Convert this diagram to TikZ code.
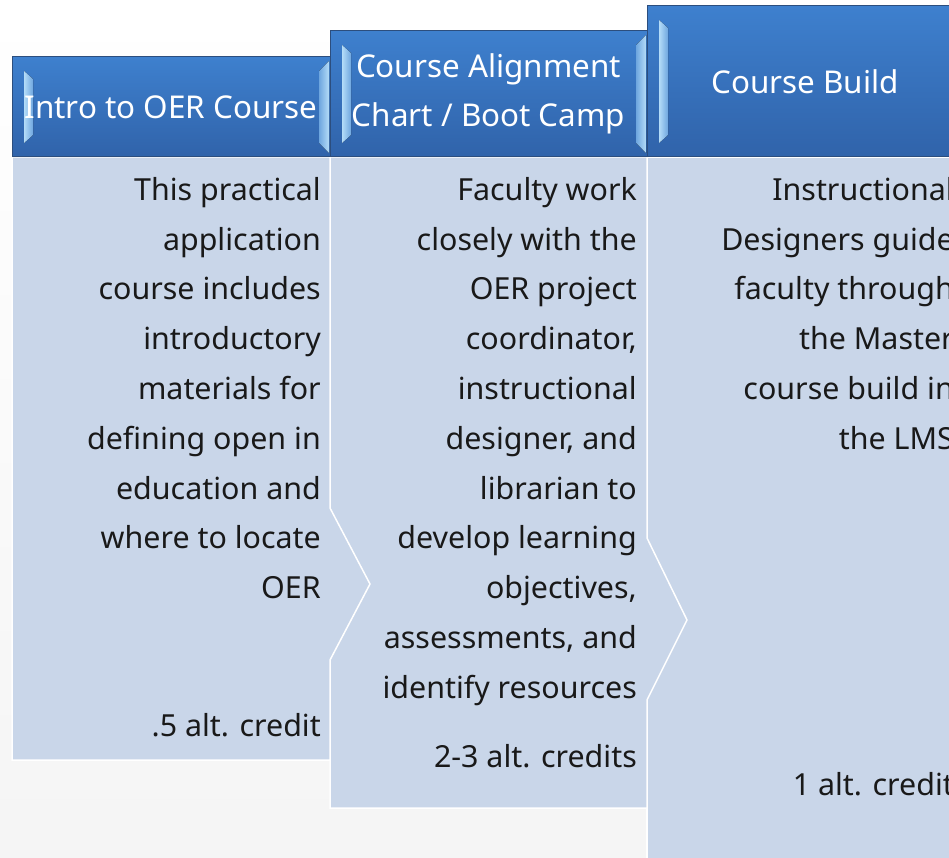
\documentclass[tikz,border=0pt]{standalone}
\usepackage{fontspec}
\setmainfont{Noto Sans}
\usetikzlibrary{positioning}
\definecolor{bodyfill}{HTML}{C9D6E9}
\definecolor{headtop}{HTML}{3E80CE}
\definecolor{headbot}{HTML}{3063AA}
\definecolor{headline}{HTML}{2C4E7E}
\definecolor{bevellight}{HTML}{B4DCF8}
\definecolor{beveldark}{HTML}{6EA6DF}
\tikzset{body/.style = {fill = bodyfill, draw = white, line width = 1.5pt, line join = miter}}
\tikzset{head/.style = {top color = headtop, bottom color = headbot, draw = headline, line width = 1pt}}
\tikzset{bevel/.style = {left color = bevellight, right color = beveldark}}
\tikzset{headtext/.style = {text = white, align = center, inner sep = 0,
                            font = \fontsize{31.4}{49}\selectfont}}
\tikzset{bodytext/.style = {text = black!90, align = right, inner sep = 0, anchor = north east,
                            font = \fontsize{30.4}{49.8}\selectfont}}
\tikzset{credit/.style = {text = black!90, inner sep = 0, anchor = base east,
                          font = \fontsize{30.4}{49.8}\selectfont}}

\begin{document}
\begin{tikzpicture}[x = 1pt, y = -1pt]
    \useasboundingbox (0, 0) rectangle (949, 858);
    \clip (0, 0) rectangle (949, 858);
    \fill [top color = white, bottom color = black!4] (0, 0) rectangle (949, 858);

    % bodies, right to left so each chevron sits on the next one
    \draw [body] (647, 157) rectangle (963, 900);
    \draw [body] (330, 157) -- (647, 157) -- (647, 538) -- (687, 620) -- (647, 700)
                 -- (647, 808) -- (330, 808) -- cycle;
    \draw [body] (12, 157) -- (330, 157) -- (330, 508) -- (370, 584) -- (330, 660)
                 -- (330, 760) -- (12, 760) -- cycle;

    % headers
    \foreach \xa/\ya/\xb/\nm/\txt in {647/6/963/c/{Course Build},
                                      330/31/647/b/{Course Alignment\\Chart / Boot Camp},
                                      12/57/330/a/{Intro to OER Course}} {
        \draw [head] (\xa, \ya) rectangle (\xb, 157);
        \fill [bevel] (\xa + 12, \ya + 14) -- (\xa + 21, \ya + 22) -- (\xa + 21, 135)
                      -- (\xa + 12, 143) -- cycle;
        \fill [bevel, left color = beveldark, right color = bevellight]
              (\xb - 1, \ya + 4) -- (\xb - 11, \ya + 14) -- (\xb - 11, 143) -- (\xb - 1, 153) -- cycle;
        \node [headtext] (head\nm) at ({(\xa + \xb) / 2}, {(\ya + 157) / 2}) {\txt};
    }

    % texts
    \node [bodytext] (texta) at (321, 177) {This practical\\application\\course includes\\introductory\\materials for\\defining open in\\education and\\where to locate\\OER};
    \node [credit] (credita) at (321, 736) {.5 alt. credit};

    \node [bodytext] (textb) at (637, 177) {Faculty work\\closely with the\\OER project\\coordinator,\\instructional\\designer, and\\librarian to\\develop learning\\objectives,\\assessments, and\\identify resources};
    \node [credit] (creditb) at (637, 767) {2-3 alt. credits};

    \node [bodytext] (textc) at (954, 177) {Instructional\\Designers guide\\faculty through\\the Master\\course build in\\the LMS};
    \node [credit] (creditc) at (954, 795) {1 alt. credit};
  \end{tikzpicture}
\end{document}
